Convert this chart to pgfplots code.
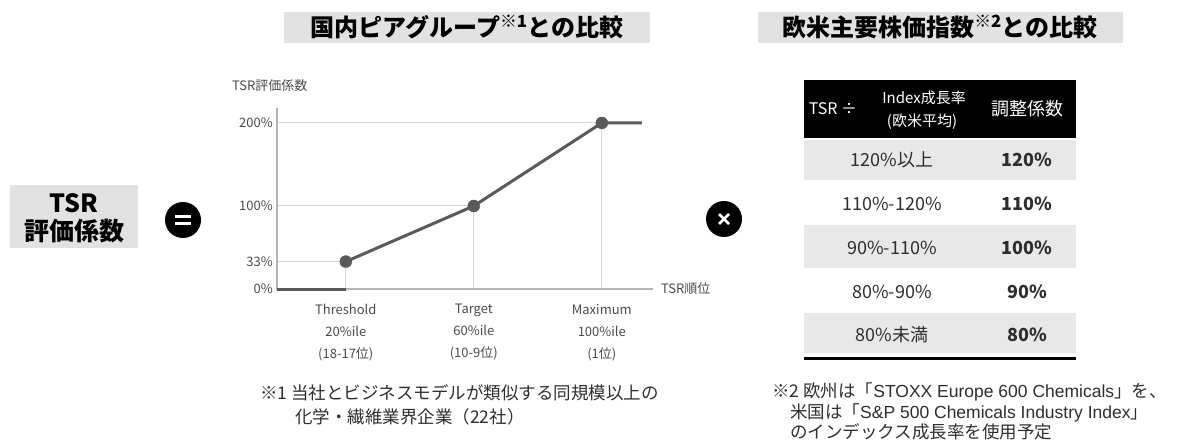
\documentclass[border=0pt]{standalone}
\usepackage{pgfplots}
\pgfplotsset{compat=1.18}
\usepackage{fontspec}
\setmainfont{Noto Sans CJK JP}
\newfontfamily\latin{Liberation Sans}
\definecolor{titlegray}{HTML}{E2E2E2}
\definecolor{rowgray}{HTML}{E8E8E8}
\definecolor{linegray}{HTML}{5A5A5A}
\definecolor{axisgray}{HTML}{B4B4B4}
\definecolor{gridgray}{HTML}{D6D6D6}
\definecolor{labelgray}{HTML}{4A4A4A}
\definecolor{notegray}{HTML}{2E2E2E}
\begin{document}
\begin{tikzpicture}[x=1pt,y=1pt,every node/.style={inner sep=0pt}]
\path[use as bounding box] (0,0) rectangle (1197,445);
% titles
\fill[titlegray] (284,402) rectangle (650,433);
\node[font=\fontsize{24}{28}\selectfont\bfseries] at (467,418) {国内ピアグループ\textsuperscript{※1}との比較};
\fill[titlegray] (758,402) rectangle (1123,433);
\node[font=\fontsize{24}{28}\selectfont\bfseries] at (940,418) {欧米主要株価指数\textsuperscript{※2}との比較};
% left box
\fill[titlegray] (10,197) rectangle (138,260);
\node[font=\fontsize{25}{28}\selectfont\bfseries] at (74,242) {TSR};
\node[font=\fontsize{25}{28}\selectfont\bfseries] at (74,214) {評価係数};
% equal sign
\fill[black] (183,225) circle (18);
\draw[white,line width=3pt] (175,228.5)--(191,228.5) (175,221.5)--(191,221.5);
% times sign
\fill[black] (724,226) circle (18);
\draw[white,line width=2.5pt] (719,221)--(729,231) (719,231)--(729,221);
% chart
\begin{scope}[shift={(277pt,156pt)}]
\begin{axis}[at={(0pt,0pt)}, anchor=south west, scale only axis,
  width=376pt, height=181pt,
  xmin=-1.5, xmax=116, ymin=0, ymax=218,
  axis line style={draw=none},
  clip=false,
  xtick={20,60,100},
  xticklabels={{Threshold\\20\%ile\\(18-17位)},{Target\\60\%ile\\(10-9位)},{Maximum\\100\%ile\\(1位)}},
  ytick={0,33,100,200},
  yticklabels={0\%,33\%,100\%,200\%},
  major tick length=0pt,
  tick label style={font=\fontsize{13}{22}\selectfont, text=labelgray},
  xticklabel style={align=center, yshift=-15pt},
  yticklabel style={xshift=-4pt},
  ]
\addplot[gridgray, line width=1pt] coordinates {(-1.5,33) (20,33) (20,0)};
\addplot[gridgray, line width=1pt] coordinates {(-1.5,100) (60,100) (60,0)};
\addplot[gridgray, line width=1pt] coordinates {(-1.5,200) (100,200) (100,0)};
\addplot[axisgray, line width=2pt] coordinates {(-1.5,218) (-1.5,0) (116,0)};
\addplot[linegray, line width=3pt] coordinates {(-1.5,0) (20,0)};
\addplot[linegray, line width=3pt] coordinates {(20,33) (60,100) (100,200) (112.5,200)};
\addplot[only marks, mark=*, mark size=6pt, mark options={fill=linegray, draw=linegray}] coordinates {(20,33) (60,100) (100,200)};
\end{axis}
\end{scope}
\node[anchor=west, font=\fontsize{13}{15}\selectfont, text=labelgray] at (232,359) {TSR評価係数};
\node[anchor=west, font=\fontsize{13}{15}\selectfont, text=labelgray] at (661,156) {TSR順位};
% table
\fill[black] (804,307) rectangle (1076,365);
\fill[rowgray] (804,265) rectangle (1076,305);
\fill[rowgray] (804,177) rectangle (1076,220);
\fill[rowgray] (804,92) rectangle (1076,132);
\draw[black, line width=3pt] (804,86.5)--(1076,86.5);
\node[text=white, font=\fontsize{16}{18}\selectfont] at (833,336) {TSR ÷};
\node[text=white, font=\fontsize{15}{17}\selectfont] at (924,347) {Index成長率};
\node[text=white, font=\fontsize{15}{17}\selectfont] at (922,323) {(欧米平均)};
\node[text=white, font=\fontsize{18}{20}\selectfont] at (1027,336) {調整係数};
\begin{scope}[every node/.append style={font=\fontsize{18}{20}\selectfont, text=notegray}]
\node at (892,285) {120\%以上};
\node at (892,241) {110\%-120\%};
\node at (892,197) {90\%-110\%};
\node at (892,153) {80\%-90\%};
\node at (892,110) {80\%未満};
\node[font=\fontsize{18}{20}\selectfont\bfseries] at (1027,285) {120\%};
\node[font=\fontsize{18}{20}\selectfont\bfseries] at (1027,241) {110\%};
\node[font=\fontsize{18}{20}\selectfont\bfseries] at (1027,197) {100\%};
\node[font=\fontsize{18}{20}\selectfont\bfseries] at (1027,153) {90\%};
\node[font=\fontsize{18}{20}\selectfont\bfseries] at (1027,110) {80\%};
\end{scope}
% footnotes
\begin{scope}[every node/.append style={anchor=west, font=\fontsize{17.5}{19}\selectfont, text=notegray}]
\node at (260,52) {※1 当社とビジネスモデルが類似する同規模以上の};
\node at (295,28) {化学・繊維業界企業（22社）};
\node at (772,53) {※2 欧州は「{\latin STOXX Europe 600 Chemicals}」を、};
\node at (790,32) {米国は「{\latin S\&P 500 Chemicals Industry Index}」};
\node at (790,13) {のインデックス成長率を使用予定};
\end{scope}
\end{tikzpicture}
\end{document}
